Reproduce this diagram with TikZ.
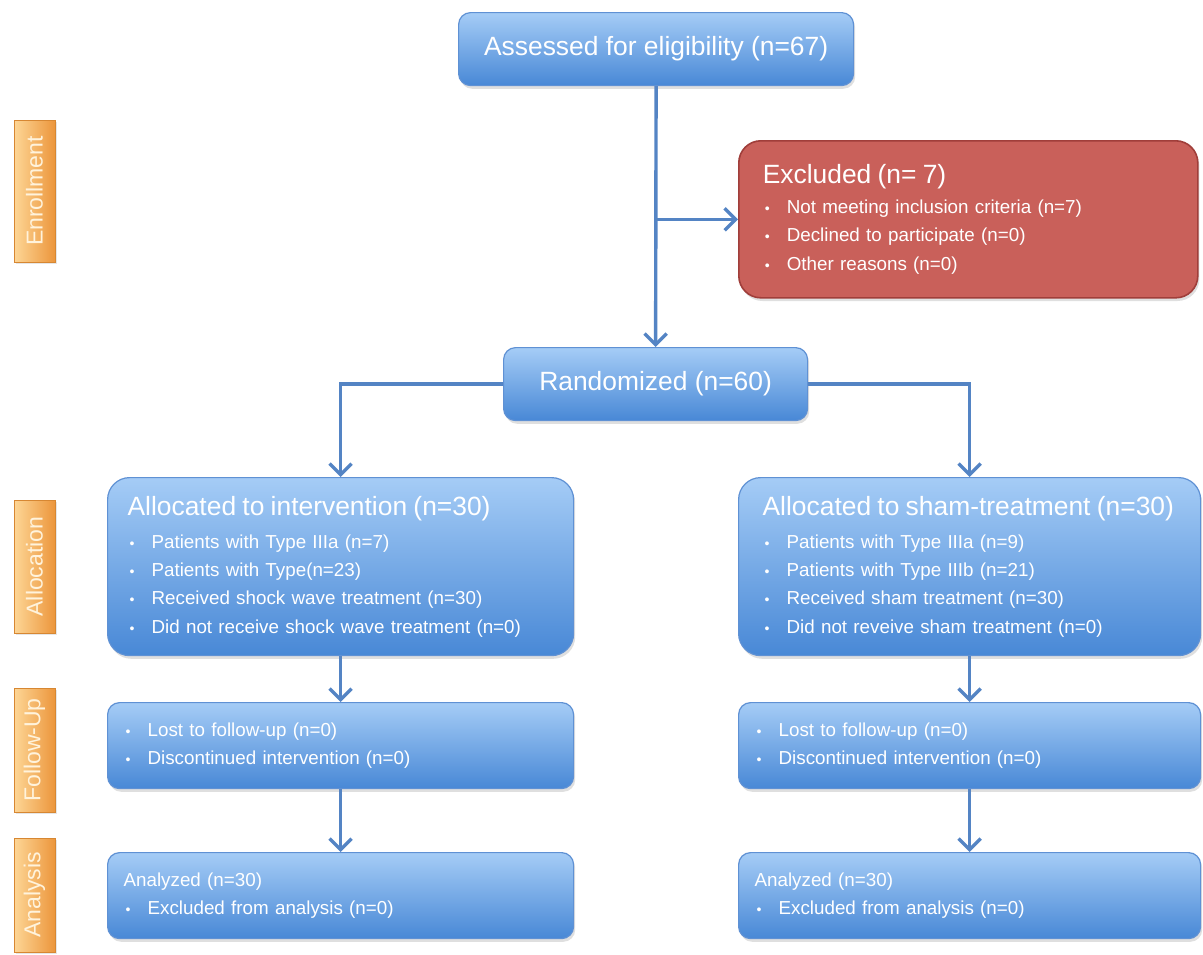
\documentclass[tikz,border=0pt]{standalone}
\usepackage{fontspec}
\setmainfont{Liberation Sans}
\usetikzlibrary{arrows.meta,shadows,calc}
\definecolor{arrowc}{RGB}{84,132,196}
\definecolor{btop}{RGB}{165,204,246}
\definecolor{bbot}{RGB}{72,136,214}
\definecolor{bline}{RGB}{95,145,212}
\definecolor{redf}{RGB}{201,96,90}
\definecolor{redl}{RGB}{160,62,58}
\definecolor{otop}{RGB}{253,214,150}
\definecolor{obot}{RGB}{236,150,60}
\definecolor{oline}{RGB}{215,135,50}
\definecolor{otext}{RGB}{255,243,220}
\newcommand{\ttl}{\fontsize{13.2}{16}\selectfont}
\newcommand{\sml}{\fontsize{9.4}{14.2}\selectfont}
\newcommand{\itm}[1]{\makebox[12pt][l]{\hspace{1pt}\scalebox{0.75}{•}}#1}
\tikzset{
  bbox/.style={draw=bline, line width=0.6pt, top color=btop, bottom color=bbot,
    text=white, font=\sml, anchor=north west, align=left, inner ysep=0pt,
    drop shadow={opacity=0.25, shadow xshift=0.8pt, shadow yshift=-1.6pt}},
  redbox/.style={draw=redl, line width=0.8pt, fill=redf, text=white, font=\sml,
    anchor=north west, align=left, inner ysep=0pt,
    drop shadow={opacity=0.25, shadow xshift=0.8pt, shadow yshift=-1.6pt}},
  tabbox/.style={rotate=90, draw=oline, line width=0.4pt, left color=otop, right color=obot,
    text=otext, font=\fontsize{11.5}{12}\selectfont, minimum height=20.5pt, inner sep=0pt,
    drop shadow={opacity=0.2, shadow xshift=0.8pt, shadow yshift=-1.2pt}},
  arr/.style={draw=arrowc, line width=1.7pt,
    -{Straight Barb[length=5.5pt, width=11pt, line width=1.7pt]}},
}
\begin{document}
\begin{tikzpicture}[x=0.5pt,y=-0.5pt]
\useasboundingbox (0,0) rectangle (1203,954);

% side tabs
\node[tabbox, minimum width=71pt] (t1) at (34.5,191) {Enrollment};
\node[tabbox, minimum width=66.5pt] (t2) at (34.5,566.5) {Allocation};
\node[tabbox, minimum width=62pt] (t3) at (34.5,750) {Follow-Up};
\node[tabbox, minimum width=57pt] (t4) at (34.5,895) {Analysis};

% boxes
\node[bbox, rounded corners=6pt, minimum width=197.5pt, minimum height=36.5pt,
  align=center, font=\ttl, anchor=north west] (assess) at (458,12) {Assessed for eligibility (n=67)};

\node[redbox, rounded corners=11pt, minimum width=229.5pt, minimum height=78.5pt,
  text width=205.5pt, inner xsep=12pt] (excl) at (738,140)
  {{\ttl Excluded (n= 7)}\\[0.5pt]
   \itm{Not meeting inclusion criteria (n=7)}\\
   \itm{Declined to participate (n=0)}\\
   \itm{Other reasons (n=0)}};

\node[bbox, rounded corners=6pt, minimum width=152pt, minimum height=36.5pt,
  align=center, font=\ttl] (rand) at (503,347) {Randomized (n=60)};

\node[bbox, rounded corners=11pt, minimum width=233pt, minimum height=89pt,
  text width=213pt, inner xsep=10pt] (allocL) at (107,477)
  {{\ttl Allocated to intervention (n=30)}\\[2.3pt]
   \itm{Patients with Type IIIa (n=7)}\\
   \itm{Patients with Type(n=23)}\\
   \itm{Received shock wave treatment (n=30)}\\
   \itm{Did not receive shock wave treatment (n=0)}};

\node[bbox, rounded corners=11pt, minimum width=231pt, minimum height=89pt,
  text width=207pt, inner xsep=12pt] (allocR) at (738,477)
  {{\ttl Allocated to sham-treatment (n=30)}\\[2.3pt]
   \itm{Patients with Type IIIa (n=9)}\\
   \itm{Patients with Type IIIb (n=21)}\\
   \itm{Received sham treatment (n=30)}\\
   \itm{Did not reveive sham treatment (n=0)}};

\node[bbox, rounded corners=6pt, minimum width=233pt, minimum height=43pt,
  text width=217pt, inner xsep=8pt] (folL) at (107,702)
  {\itm{Lost to follow-up (n=0)}\\
   \itm{Discontinued intervention (n=0)}};

\node[bbox, rounded corners=6pt, minimum width=231pt, minimum height=43pt,
  text width=215pt, inner xsep=8pt] (folR) at (738,702)
  {\itm{Lost to follow-up (n=0)}\\
   \itm{Discontinued intervention (n=0)}};

\node[bbox, rounded corners=6pt, minimum width=233pt, minimum height=43pt,
  text width=217pt, inner xsep=8pt] (anaL) at (107,852)
  {Analyzed (n=30)\\
   \itm{Excluded from analysis (n=0)}};

\node[bbox, rounded corners=6pt, minimum width=231pt, minimum height=43pt,
  text width=215pt, inner xsep=8pt] (anaR) at (738,852)
  {Analyzed (n=30)\\
   \itm{Excluded from analysis (n=0)}};

% connectors
\draw[arr] (assess.south) -- (rand.north);
\coordinate (br) at (assess.south |- excl.west);
\draw[arr] (br) -- (excl.west);
\draw[arr] (rand.west) -| (allocL.north);
\draw[arr] (rand.east) -| (allocR.north);
\draw[arr] (allocL.south) -- (folL.north);
\draw[arr] (allocR.south) -- (folR.north);
\draw[arr] (folL.south) -- (anaL.north);
\draw[arr] (folR.south) -- (anaR.north);
\end{tikzpicture}
\end{document}
